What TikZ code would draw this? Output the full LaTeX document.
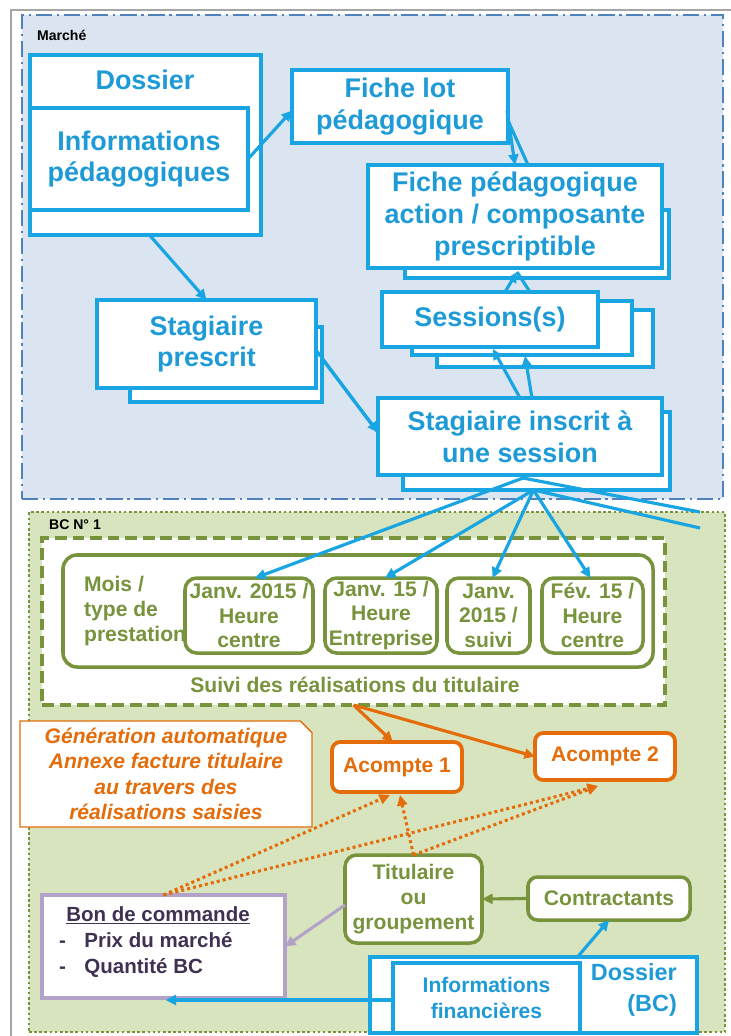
\documentclass[tikz,border=0pt]{standalone}
\usepackage{fontspec}
\setmainfont{Liberation Sans}
\usetikzlibrary{arrows.meta,calc,shapes.misc}

\definecolor{bleu}{RGB}{25,165,225}
\definecolor{bleutxt}{RGB}{30,155,215}
\definecolor{marchefond}{RGB}{219,229,241}
\definecolor{marchebord}{RGB}{79,129,189}
\definecolor{bcfond}{RGB}{215,228,189}
\definecolor{vert}{RGB}{119,147,60}
\definecolor{orangeac}{RGB}{228,108,10}
\definecolor{violetbord}{RGB}{179,162,199}
\definecolor{violettxt}{RGB}{64,49,82}

\tikzset{
  wh/.style 2 args={minimum width=#1*0.03cm,minimum height=#2*0.03cm},
  cadre/.style={inner sep=0pt,outer sep=0pt,anchor=north west},
  marcheframe/.style={cadre,draw=marchebord,fill=marchefond,line width=1.8pt,
    dash pattern=on 14pt off 4pt on 2pt off 4pt},
  bcframe/.style={cadre,draw=vert,fill=bcfond,line width=2.5pt,dash pattern=on 2.2pt off 2.2pt},
  suiviframe/.style={cadre,draw=vert,fill=white,line width=3pt,dash pattern=on 10pt off 5pt},
  cadretxt/.style={anchor=west,font=\bfseries\fontsize{12}{14}\selectfont},
  bluebox/.style={cadre,draw=bleu,fill=white,line width=3.4pt},
  bluetxt/.style={text=bleutxt,align=center,font=\bfseries\fontsize{23}{27}\selectfont},
  bluepetit/.style={text=bleutxt,align=center,font=\bfseries\fontsize{18}{21.5}\selectfont},
  greenround/.style={cadre,draw=vert,fill=white,line width=3pt,rounded corners=10pt},
  greentxt/.style={text=vert,align=center,font=\bfseries\fontsize{18}{21}\selectfont},
  orangebox/.style={cadre,draw=orangeac,fill=white,line width=3.2pt,rounded corners=7pt,
    text=orangeac,font=\bfseries\fontsize{18}{21}\selectfont},
  callout/.style={cadre,chamfered rectangle,chamfered rectangle corners=north east,
    chamfered rectangle xsep=4pt,chamfered rectangle ysep=6pt,
    draw=orangeac,fill=white,line width=1.2pt,text=orangeac,align=center,
    font=\bfseries\itshape\fontsize{18}{21.7}\selectfont},
  violetbox/.style={cadre,draw=violetbord,fill=white,line width=3pt},
  violettexte/.style={text=violettxt,font=\bfseries\fontsize{17.5}{22.5}\selectfont},
  bluelink/.style={draw=bleu,line width=2.7pt},
  orangelink/.style={draw=orangeac,line width=2.7pt},
  orangedot/.style={draw=orangeac,line width=2.6pt,dash pattern=on 2.6pt off 2.6pt},
  greenlink/.style={draw=vert,line width=2.7pt},
  violetlink/.style={draw=violetbord,line width=2.6pt}
}

\begin{document}
\begin{tikzpicture}[x=0.03cm,y=-0.03cm,>={Triangle[length=9pt,width=8.5pt]}]
\useasboundingbox (0,0) rectangle (731,1036);
\draw[gray!70,line width=2.5pt] (11,1036) -- (11,10) -- (731,10);

% Marche
\node[marcheframe,wh={701}{484}] (marche) at (22,15) {};
\node[cadretxt] (marchelbl) at (33,35) {Marché};

\node[bluebox,wh={231}{180}] (dossier) at (30,55) {};
\node[bluetxt] (dossierlbl) at (145,80) {Dossier};
\node[bluebox,bluetxt,wh={218}{102}] (infoped) at (30,108) {Informations\\pédagogiques};
\node[bluebox,bluetxt,wh={216}{73}] (fichelot) at (292,70) {Fiche lot\\pédagogique};
\node[bluebox,wh={264}{68}] (fichepedB) at (405,210) {};
\node[bluebox,bluetxt,wh={294}{103}] (fichepedA) at (368,165) {Fiche pédagogique\\action / composante\\prescriptible};
\node[bluebox,wh={216}{57}] (sess3) at (437,310) {};
\node[bluebox,wh={220}{54}] (sess2) at (412,301) {};
\node[bluebox,bluetxt,wh={216}{55}] (sess1) at (382,292) {Sessions(s)};
\node[bluebox,wh={267}{78}] (inscritB) at (403,412) {};
\node[bluebox,bluetxt,wh={284}{77}] (inscrit) at (378,398) {Stagiaire inscrit à\\une session};
\node[bluebox,wh={192}{75}] (prescritB) at (130,327) {};
\node[bluebox,bluetxt,wh={219}{88}] (prescrit) at (97,300) {Stagiaire\\prescrit};

\draw[bluelink,->] ($(dossier.south)+(4,0)$) -- (prescrit.north);
\draw[bluelink,->] (infoped.east) -- ($(fichelot.west)+(0,4)$);
\draw[bluelink,->] ($(fichelot.east)+(-1,4)$) -- (fichepedA.north);
\draw[bluelink] ($(fichelot.east)+(0,14)$) -- ($(fichepedA.north)+(13,0)$);
\draw[bluelink,->] ($(sess1.north)+(15,0)$) -- ($(fichepedA.south)+(2,4)$);
\draw[bluelink] ($(sess1.north)+(40,0)$) -- ($(fichepedA.south)+(2,4)$);
\draw[bluelink,->] (inscrit.north) -- ($(sess1.south)+(3,2)$);
\draw[bluelink,->] ($(inscrit.north)+(12,0)$) -- ($(sess2.south)+(3,1)$);
\draw[bluelink,->] ($(prescrit.east)+(0,6)$) -- ($(inscrit.west)+(0,-4)$);
\draw[bluelink] ($(prescritB.east)+(0,-6)$) -- ($(inscrit.west)+(0,-4)$);

% BC
\node[bcframe,wh={696}{520}] (bc) at (29,512) {};
\node[cadretxt] (bclbl) at (45,525) {BC N° 1};
\node[suiviframe,wh={623}{167}] (suivi) at (42,538) {};
\node[greenround,rounded corners=12pt,wh={590}{112}] (suivibloc) at (63,555) {};
\node[greentxt,anchor=west,align=left] (mois) at (80,611) {Mois /\\type de\\prestation};
\node[greenround,greentxt,wh={128}{75}] (b1) at (185,578) {Janv. 2015 /\\Heure\\centre};
\node[greenround,greentxt,wh={112}{75}] (b2) at (325,578) {Janv. 15 /\\Heure\\Entreprise};
\node[greenround,greentxt,wh={83}{75}] (b3) at (447,578) {Janv.\\2015 /\\suivi};
\node[greenround,greentxt,wh={101}{75}] (b4) at (542,578) {Fév. 15 /\\Heure\\centre};
\node[greentxt] (suivilbl) at (355,685) {Suivi des réalisations du titulaire};

\coordinate (out1) at (700,512);
\coordinate (out2) at (700,528);
\draw[bluelink,->] ($(inscrit.south)+(3,3)$) -- ($(b1.north)+(6,0)$);
\draw[bluelink,->] ($(inscritB.south)+(-3,0)$) -- ($(b2.north)+(4,0)$);
\draw[bluelink,->] ($(inscritB.south)+(-3,0)$) -- ($(b3.north)+(4,0)$);
\draw[bluelink,->] ($(inscritB.south)+(-3,0)$) -- ($(b4.north)+(-2,0)$);
\draw[bluelink] ($(inscrit.south)+(3,3)$) -- (out1);
\draw[bluelink] ($(inscritB.south)+(-3,0)$) -- (out2);

% acomptes
\node[orangebox,wh={130}{50}] (acompte1) at (332,742) {Acompte 1};
\node[orangebox,wh={140}{47}] (acompte2) at (535,733) {Acompte 2};
\node[greenround,greentxt,wh={137}{88}] (titulaire) at (345,855) {Titulaire\\ou\\groupement};
\node[greenround,greentxt,rounded corners=8pt,wh={162}{43}] (contractants) at (528,877) {Contractants};
\node[violetbox,wh={243}{103}] (bdc) at (42,895) {};
\node[violettexte] (bdctitre) at (158,915) {\underline{Bon de commande}};
\node[violettexte,anchor=west,align=left] (bdcliste) at (55,955) {-\hspace{0.9em}Prix du marché\\-\hspace{0.9em}Quantité BC};

\draw[orangedot,->] (bdc.north) -- ($(acompte1.south)+(-7,3)$);
\draw[orangedot,->] (bdc.north) -- ($(acompte2.south)+(-7,6)$);
\draw[orangedot,->] (titulaire.north) -- ($(acompte1.south)+(3,3)$);
\draw[orangedot,->] (titulaire.north) -- ($(acompte2.south)+(-7,6)$);

\node[callout,wh={292}{102}] (generation) at (20,721) {Génération automatique\\Annexe facture titulaire\\au travers des\\réalisations saisies};

\draw[orangelink,->] (suivi.south) -- ($(acompte1.north)+(-4,0)$);
\draw[orangelink,->] (suivi.south) -- (acompte2.west);
\draw[greenlink,->] (contractants.west) -- (titulaire.east);
\draw[violetlink,->] ($(titulaire.west)+(0,6)$) -- (bdc.east);

% dossier BC
\node[bluebox,wh={327}{76}] (dossierbc) at (370,957) {};
\node[bluebox,bluepetit,wh={187}{70}] (infofin) at (393,963) {Informations\\financières};
\node[bluetxt,font=\bfseries\fontsize{20}{26}\selectfont,anchor=east,align=right] (dossierbclbl) at (681,990) {Dossier\\(BC)};
\draw[bluelink,->] ($(infofin.west)+(0,2)$) -- ($(bdc.south)+(2,2)$);
\draw[bluelink,->] ($(dossierbc.north)+(44,0)$) -- (contractants.south);
\end{tikzpicture}
\end{document}
